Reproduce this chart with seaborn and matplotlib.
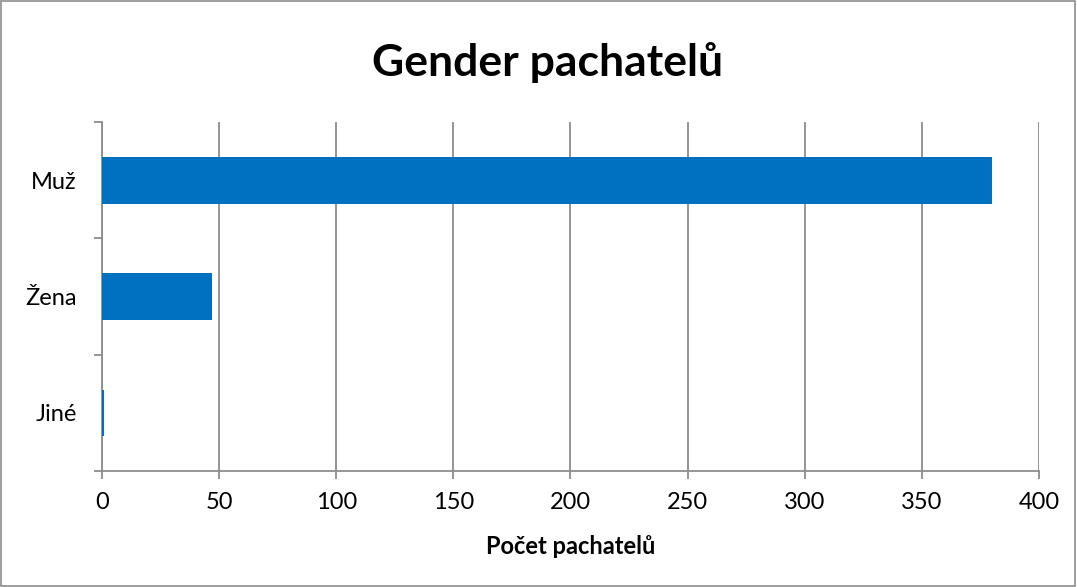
import pandas as pd
import matplotlib.pyplot as plt
import seaborn as sns
from matplotlib.patches import Rectangle

categories = ['Muž', 'Žena', 'Jiné']
counts = [380, 47, 1]
x_ticks = [0, 50, 100, 150, 200, 250, 300, 350, 400]

df = pd.DataFrame({'Gender': categories, 'Count': counts})

sns.set_style('white')
plt.rcParams['font.family'] = ['Lato', 'DejaVu Sans']
plt.rcParams['text.color'] = 'black'
plt.rcParams['xtick.color'] = 'black'
plt.rcParams['ytick.color'] = 'black'
plt.rcParams['axes.labelcolor'] = 'black'

fig = plt.figure(figsize=(10.77, 5.87), dpi=100)
ax = fig.add_axes([0.0947, 0.1976, 0.87, 0.5944])

sns.barplot(data=df, x='Count', y='Gender', order=categories, color='#0070C0',
            width=0.4, saturation=1, linewidth=0, ax=ax, zorder=3)

ax.set_xlim(0, 400)
ax.set_ylim(2.5, -0.5)
ax.set_xticks(x_ticks)
ax.set_xticklabels([str(t) for t in x_ticks], fontsize=17)
ax.grid(axis='x', color='#8c8c8c', linewidth=1.3, zorder=0)

# category boundaries as major ticks, labels on minor ticks
ax.set_yticks([-0.5, 0.5, 1.5, 2.5])
ax.set_yticklabels([])
ax.set_yticks([0, 1, 2], minor=True)
ax.set_yticklabels(categories, minor=True, fontsize=17)
ax.tick_params(axis='y', which='major', length=6, color='#8c8c8c', width=1.3, left=True)
ax.tick_params(axis='y', which='minor', length=0, pad=18)
ax.tick_params(axis='x', length=6, color='#8c8c8c', width=1.3, bottom=True, pad=9)

for side in ['top', 'right']:
    ax.spines[side].set_visible(False)
for side in ['left', 'bottom']:
    ax.spines[side].set_color('#8c8c8c')
    ax.spines[side].set_linewidth(1.3)

ax.set_ylabel('')
ax.set_xlabel('Počet pachatelů', fontsize=17, fontweight='bold', labelpad=16)
fig.text(0.508, 0.894, 'Gender pachatelů', fontsize=32, fontweight='bold',
         ha='center', va='center')

fig.patches.append(Rectangle((0.001, 0.002), 0.997, 0.996, transform=fig.transFigure,
                             fill=False, edgecolor='#8c8c8c', linewidth=1.2))

fig.savefig('out.png', dpi=100)
